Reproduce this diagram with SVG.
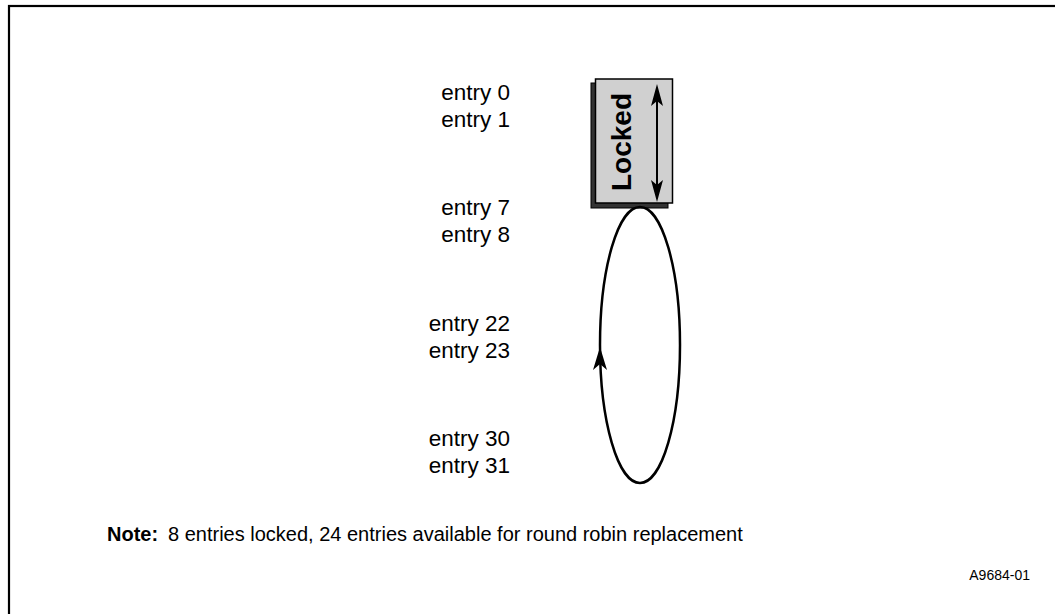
<svg xmlns="http://www.w3.org/2000/svg" width="1055" height="614" viewBox="0 0 1055 614">
<style>
.t{font-family:"Liberation Sans",Arial,sans-serif;fill:#000}
.e{font-size:22.5px;text-anchor:end}
.ln{fill:none;stroke:#000;stroke-width:2.5}
.hd{fill:#000}
</style>
<rect width="1055" height="614" fill="#fff"/>
<rect x="9" y="6" width="1070" height="640" fill="none" stroke="#000" stroke-width="2.2"/>
<g id="labels">
<text class="t e" x="510" y="100">entry 0</text>
<text class="t e" x="510" y="126.5">entry 1</text>
<text class="t e" x="510" y="215">entry 7</text>
<text class="t e" x="510" y="242">entry 8</text>
<text class="t e" x="510" y="331">entry 22</text>
<text class="t e" x="510" y="358">entry 23</text>
<text class="t e" x="510" y="446">entry 30</text>
<text class="t e" x="510" y="473">entry 31</text>
</g>
<g id="locked">
<rect x="591" y="83" width="77" height="125" fill="#333" stroke="#000" stroke-width="1"/>
<rect x="595.5" y="79" width="77" height="124" fill="#d0d0d0" stroke="#000" stroke-width="1.5"/>
<text class="t" transform="translate(631,142) rotate(-90)" text-anchor="middle" font-size="28" font-weight="bold">Locked</text>
</g>
<g id="ring">
<ellipse cx="640" cy="345" rx="40" ry="138" class="ln"/>
</g>
<g id="connectors">
<line x1="657" y1="96" x2="657" y2="191" stroke="#000" stroke-width="2"/>
<path class="hd" d="M657,84 L651,106 L657,101 L663,106 Z"/>
<path class="hd" d="M657,202 L651,180 L657,185 L663,180 Z"/>
<path class="hd" d="M600,347 L593,370 L600,364 L607,370 Z"/>
</g>
<g id="note">
<text class="t" x="107" y="541" font-size="20" font-weight="bold">Note:</text>
<text class="t" x="168" y="541" font-size="20">8 entries locked, 24 entries available for round robin replacement</text>
<text class="t" x="1030" y="580" font-size="14" text-anchor="end">A9684-01</text>
</g>
</svg>
